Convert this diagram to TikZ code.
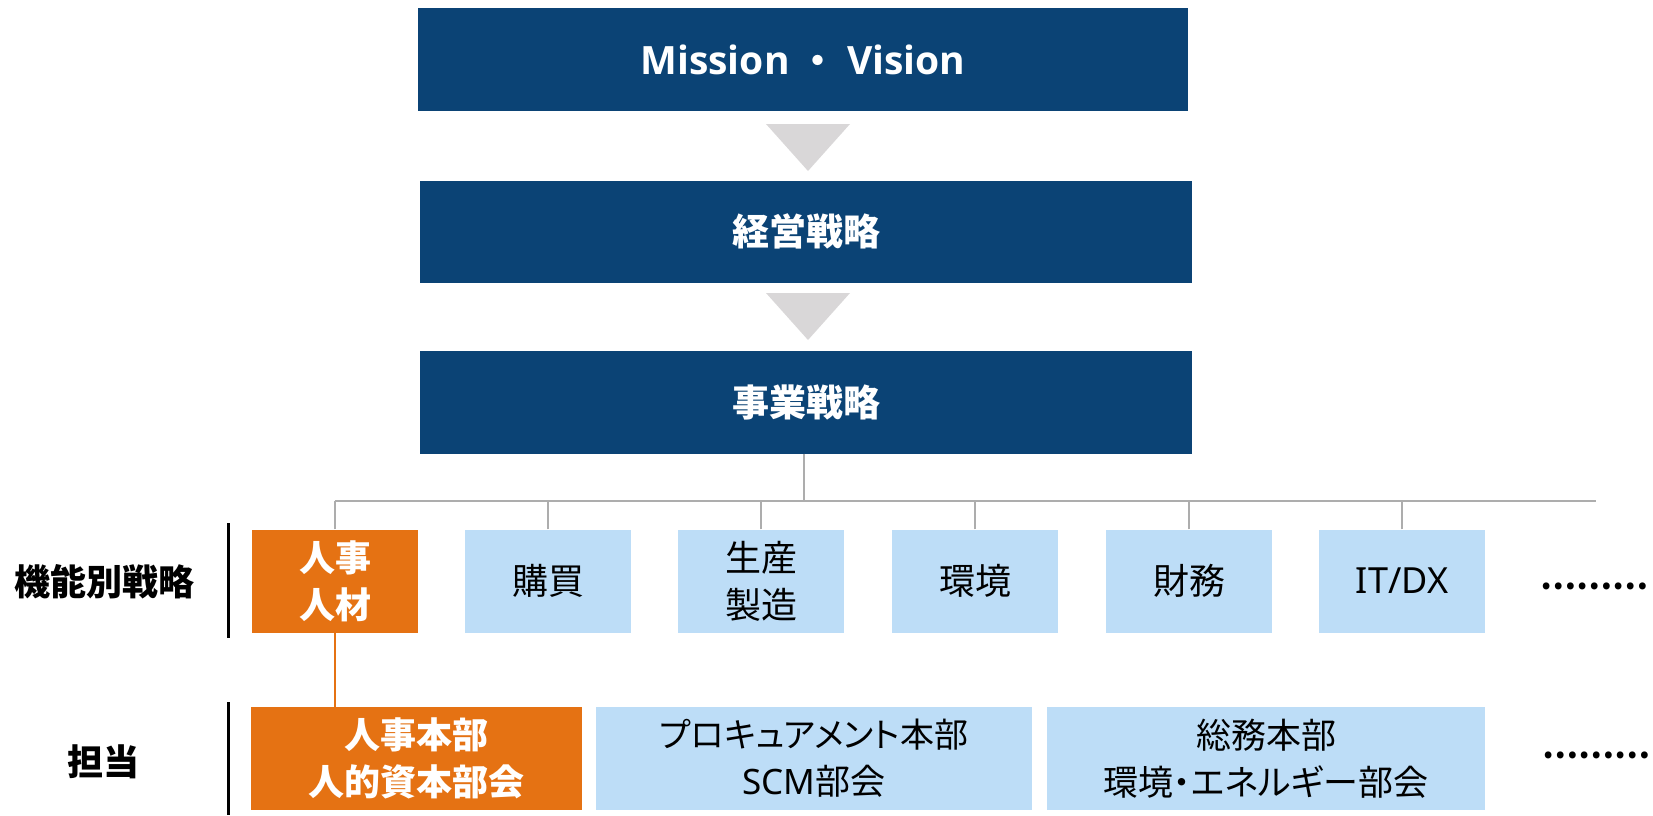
\documentclass[tikz,border=0pt]{standalone}
\usepackage{fontspec}
\setmainfont{Noto Sans CJK JP}[RawFeature=+palt]
\newfontfamily\cjkfull{Noto Sans CJK JP}
\newfontfamily\lat{Noto Sans}
\newfontfamily\latb{Open Sans}
\definecolor{navy}{HTML}{0B4375}
\definecolor{orng}{HTML}{E57213}
\definecolor{lblue}{HTML}{BDDDF7}
\definecolor{trigray}{HTML}{D9D7D8}
\definecolor{lgray}{HTML}{ADADAD}
\begin{document}
\begin{tikzpicture}[x=1pt,y=-1pt,
  navybox/.style={rectangle, fill=navy, text=white, inner sep=0pt,
    font=\fontsize{37}{44}\selectfont\bfseries},
  funcbox/.style={rectangle, fill=lblue, text=black, inner sep=0pt, align=center,
    minimum width=166pt, minimum height=103pt,
    font=\fontsize{36}{47}\selectfont},
  hrbox/.style={funcbox, fill=orng, text=white, font=\fontsize{36}{47}\selectfont\bfseries},
  ownbox/.style={rectangle, fill=lblue, text=black, inner sep=0pt, align=center,
    minimum height=103pt, font=\fontsize{35}{47}\selectfont},
  hrown/.style={ownbox, fill=orng, text=white, font=\fontsize{36}{47}\selectfont\bfseries},
  rowlabel/.style={text=black, inner sep=0pt, font=\fontsize{36}{44}\selectfont\bfseries},
  dotsnode/.style={text=black, inner sep=0pt, font=\cjkfull\fontsize{32}{40}\selectfont\bfseries},
  gline/.style={draw=lgray, line width=1.5pt},
  bar/.style={draw=black, line width=2.5pt}
]
\useasboundingbox (0,0) rectangle (1653,815);

% top boxes
\node[navybox, minimum width=770pt, minimum height=103pt] (mv) at (803,59.5)
  {\latb\bfseries\fontsize{39}{44}\selectfont Mission\hspace{0.5em}{\normalfont\bfseries\fontsize{37}{44}\selectfont ・}\hspace{0.5em}Vision};
\node[navybox, minimum width=772pt, minimum height=102pt] (ms) at (806,231.5) {経営戦略};
\node[navybox, minimum width=772pt, minimum height=103pt] (bs) at (806,402) {事業戦略};

% triangles
\fill[trigray] (766,124) -- (850,124) -- (808,171) -- cycle;
\fill[trigray] (766,293) -- (850,293) -- (808,340) -- cycle;

% functional strategies
\node[hrbox] (f1) at (335,581) {人事\\人材};
\node[funcbox] (f2) at (548,581) {購買};
\node[funcbox] (f3) at (761,581) {生産\\製造};
\node[funcbox] (f4) at (975,581) {環境};
\node[funcbox] (f5) at (1189,581) {財務};
\node[funcbox] (f6) at (1402,581) {{\lat IT/DX}};
\node[dotsnode] (d1) at (1594,586) {………};

% owners
\node[hrown, minimum width=331pt] (o1) at (416.5,758.5) {人事本部\\人的資本部会};
\node[ownbox, minimum width=436pt] (o2) at (814,758.5) {{\fontsize{34}{47}\selectfont プロキュアメント本部}\\{\lat SCM}部会};
\node[ownbox, minimum width=438pt] (o3) at (1266,758.5) {総務本部\\環境・エネルギー部会};
\node[dotsnode] (d2) at (1596,755) {………};

% row labels
\node[rowlabel] (l1) at (104,582) {機能別戦略};
\node[rowlabel] (l2) at (103,762) {担当};
\draw[bar] (228.5,523) -- (228.5,638);
\draw[bar] (228.5,702) -- (228.5,815);

% tree connectors
\coordinate (bus) at (804,501);
\coordinate (busend) at (1596,501);
\draw[gline, line width=1.2pt] (bs.south -| bus) -- (bus);
\draw[gline, line width=2pt] (f1.north |- bus) -- (busend);
\foreach \n in {f1,f2,f3,f4,f5,f6}
  \draw[gline, line width=1.3pt] (\n.north) -- (\n.north |- bus);

% HR link
\draw[draw=orng, line width=2pt] (f1.south) -- (f1.south |- o1.north);
\end{tikzpicture}
\end{document}
